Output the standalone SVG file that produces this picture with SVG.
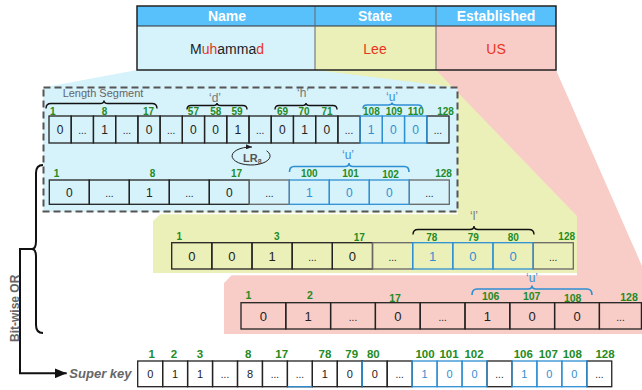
<svg xmlns="http://www.w3.org/2000/svg" width="642" height="390" viewBox="0 0 642 390">
<defs>
<style>
text{font-family:"Liberation Sans",Arial,Helvetica,sans-serif}
.c{fill:none;stroke:#222;stroke-width:1.3}
.cb{fill:none;stroke:#2f8fd3;stroke-width:1.3}
.cg{fill:none;stroke:#666;stroke-width:1.3}
.v{text-anchor:middle;fill:#222;font-size:12px}
.v3{font-size:13px}
.v5{font-size:11px}
.vb{fill:#2f8fd3}
.d{font-size:10px}
.n{font-size:10px;font-weight:bold;fill:#238b23;text-anchor:middle}
.n4{font-size:10.5px}
.n5{font-size:11.5px}
.q{font-size:12px;fill:#777;text-anchor:middle}
.qb{fill:#3a8fd8}
.br{fill:none;stroke:#111;stroke-width:1.4}
.brb{fill:none;stroke:#2f8fd3;stroke-width:1.6}
.hd{font-size:14px;font-weight:bold;fill:#fff;text-anchor:middle}
.tv{font-size:14px;text-anchor:middle;fill:#222}
.red{fill:#e8341c}
</style>
<marker id="ah" viewBox="0 0 12 10" refX="12" refY="5" markerWidth="12" markerHeight="10" markerUnits="userSpaceOnUse" orient="auto"><path d="M0,0 L12,5 L0,10 z" fill="#111"/></marker>
<marker id="ah2" viewBox="0 0 6 5" refX="6" refY="2.5" markerWidth="6" markerHeight="5" markerUnits="userSpaceOnUse" orient="auto"><path d="M0,0 L6,2.5 L0,5 z" fill="#222"/></marker>
</defs>

<g id="regions">
<polygon id="pink-region" points="436,70 556,70 642,266 642,334 224,334 224,283" fill="#f8ccc7"/>
<polygon id="yellow-region" points="315,70 436,70 577,216 577,273 153,273 153,221" fill="#ebf0b9"/>
<rect x="153" y="273" width="424" height="2.3" fill="#fff"/>
<polygon id="blue-region" points="137,70 315,70 457.5,87.5 457.5,211.5 43.5,211.5 43.5,87.5" fill="#d6f2fa"/>
<rect x="43" y="212.5" width="415" height="1.8" fill="#fff"/>
<rect x="43.5" y="87.5" width="414" height="124" fill="#d6f2fa" stroke="#555" stroke-width="2" stroke-dasharray="7 4"/>
</g>

<g id="table">
<rect x="137" y="6" width="419" height="20" fill="#58c0fa"/>
<rect x="137" y="26" width="178" height="44" fill="#d6f2fa"/>
<rect x="315" y="26" width="121" height="44" fill="#ebf0b9"/>
<rect x="436" y="26" width="120" height="44" fill="#f8ccc7"/>
<line x1="137" y1="26" x2="556" y2="26" stroke="#333" stroke-width="1"/>
<line x1="315" y1="6" x2="315" y2="70" stroke="#666" stroke-width="1"/>
<line x1="436" y1="6" x2="436" y2="70" stroke="#666" stroke-width="1"/>
<rect x="137" y="6" width="419" height="64" fill="none" stroke="#222" stroke-width="1.5"/>
<text class="hd" x="227" y="21">Name</text>
<text class="hd" x="375" y="21">State</text>
<text class="hd" x="496" y="21">Established</text>
<text class="tv" x="227" y="54">M<tspan class="red">uh</tspan>amma<tspan class="red">d</tspan></text>
<text class="tv red" x="375" y="54">Lee</text>
<text class="tv red" x="496" y="54">US</text>
</g>

<g id="row-name">
<g>
<rect class="c" x="49" y="116" width="22.22" height="27"/>
<rect class="c" x="71.22" y="116" width="22.22" height="27"/>
<rect class="c" x="93.44" y="116" width="22.22" height="27"/>
<rect class="c" x="115.67" y="116" width="22.22" height="27"/>
<rect class="c" x="137.89" y="116" width="22.22" height="27"/>
<rect class="c" x="160.11" y="116" width="22.22" height="27"/>
<rect class="c" x="182.33" y="116" width="22.22" height="27"/>
<rect class="c" x="204.56" y="116" width="22.22" height="27"/>
<rect class="c" x="226.78" y="116" width="22.22" height="27"/>
<rect class="c" x="249" y="116" width="22.22" height="27"/>
<rect class="c" x="271.22" y="116" width="22.22" height="27"/>
<rect class="c" x="293.44" y="116" width="22.22" height="27"/>
<rect class="c" x="315.67" y="116" width="22.22" height="27"/>
<rect class="c" x="337.89" y="116" width="22.22" height="27"/>
<rect class="c" x="426.78" y="116" width="22.22" height="27"/>
<rect class="cb" x="360.11" y="116" width="22.22" height="27"/>
<rect class="cb" x="382.33" y="116" width="22.22" height="27"/>
<rect class="cb" x="404.56" y="116" width="22.22" height="27"/>
</g>
<text class="v" x="60.1" y="134">0</text>
<text class="v d" x="82.3" y="134">...</text>
<text class="v" x="104.6" y="134">1</text>
<text class="v d" x="126.8" y="134">...</text>
<text class="v" x="149" y="134">0</text>
<text class="v d" x="171.2" y="134">...</text>
<text class="v" x="193.4" y="134">0</text>
<text class="v" x="215.7" y="134">0</text>
<text class="v" x="237.9" y="134">1</text>
<text class="v d" x="260.1" y="134">...</text>
<text class="v" x="282.3" y="134">0</text>
<text class="v" x="304.6" y="134">1</text>
<text class="v" x="326.8" y="134">0</text>
<text class="v d" x="349" y="134">...</text>
<text class="v vb" x="371.2" y="134">1</text>
<text class="v vb" x="393.4" y="134">0</text>
<text class="v vb" x="415.7" y="134">0</text>
<text class="v d" x="437.9" y="134">...</text>
<text class="n" x="52.7" y="115">1</text>
<text class="n" x="104.5" y="115">8</text>
<text class="n" x="148.5" y="115">17</text>
<text class="n" x="193.4" y="115">57</text>
<text class="n" x="215.7" y="115">58</text>
<text class="n" x="237" y="115">59</text>
<text class="n" x="282.5" y="115">69</text>
<text class="n" x="304" y="115">70</text>
<text class="n" x="327" y="115">71</text>
<text class="n" x="371.4" y="115">108</text>
<text class="n" x="394" y="115">109</text>
<text class="n" x="415.7" y="115">110</text>
<text class="n" x="445.5" y="115">128</text>
<path class="br" d="M46,108.5 Q46,103.5 51,103.5 L100,103.5 Q104,103.5 104,100.5 Q104,103.5 108,103.5 L152,103.5 Q157,103.5 157,108.5"/>
<text x="103" y="97" font-size="11" fill="#666" text-anchor="middle">Length Segment</text>
<path class="br" d="M187,109.5 Q187,105.5 191,105.5 L213,105.5 Q217,105.5 217,103 Q217,105.5 221,105.5 L243,105.5 Q247,105.5 247,109.5"/>
<text class="q" x="215" y="101.5">‘d’</text>
<path class="br" d="M275,109.5 Q275,105.5 279,105.5 L302,105.5 Q306,105.5 306,103 Q306,105.5 310,105.5 L333,105.5 Q337,105.5 337,109.5"/>
<text class="q" x="303" y="97">‘h’</text>
<path class="brb" d="M363,108.5 Q363,105 367,105 L388,105 Q392,105 392,102.5 Q392,105 396,105 L418,105 Q422,105 422,108.5"/>
<text class="q qb" x="392" y="101">‘u’</text>
</g>

<g id="row-name-lr8">
<rect class="c" x="49.3" y="180" width="40" height="24.3"/>
<rect class="c" x="89.3" y="180" width="40" height="24.3"/>
<rect class="c" x="129.3" y="180" width="40" height="24.3"/>
<rect class="c" x="169.3" y="180" width="40" height="24.3"/>
<rect class="c" x="209.3" y="180" width="40" height="24.3"/>
<rect class="cg" x="249.3" y="180" width="40" height="24.3"/>
<rect class="cg" x="409.3" y="180" width="40" height="24.3"/>
<rect class="cb" x="289.3" y="180" width="40" height="24.3"/>
<rect class="cb" x="329.3" y="180" width="40" height="24.3"/>
<rect class="cb" x="369.3" y="180" width="40" height="24.3"/>
<text class="v" x="69.3" y="196.5">0</text>
<text class="v d" x="109.3" y="196.5">...</text>
<text class="v" x="149.3" y="196.5">1</text>
<text class="v d" x="189.3" y="196.5">...</text>
<text class="v" x="229.3" y="196.5">0</text>
<text class="v d" x="269.3" y="196.5">...</text>
<text class="v vb" x="309.3" y="196.5">1</text>
<text class="v vb" x="349.3" y="196.5">0</text>
<text class="v vb" x="389.3" y="196.5">0</text>
<text class="v d" x="429.3" y="196.5">...</text>
<text class="n" x="56.5" y="177">1</text>
<text class="n" x="152.5" y="177">8</text>
<text class="n" x="236.5" y="177">17</text>
<text class="n" x="309.3" y="177">100</text>
<text class="n" x="350.5" y="177">101</text>
<text class="n" x="390.5" y="178">102</text>
<text class="n" x="443.5" y="177">128</text>
<path class="brb" d="M289.5,172 Q289.5,166.5 294,166.5 L345,166.5 Q349,166.5 349,163 Q349,166.5 353,166.5 L404.5,166.5 Q409,166.5 409,172"/>
<text class="q qb" x="348" y="158.5">‘u’</text>
</g>

<g id="row-state">
<rect class="c" x="171.7" y="242.7" width="40.16" height="26.3"/>
<rect class="c" x="211.86" y="242.7" width="40.16" height="26.3"/>
<rect class="c" x="252.02" y="242.7" width="40.16" height="26.3"/>
<rect class="c" x="292.18" y="242.7" width="40.16" height="26.3"/>
<rect class="c" x="332.34" y="242.7" width="40.16" height="26.3"/>
<rect class="cg" x="372.5" y="242.7" width="40.16" height="26.3"/>
<rect class="cg" x="533.14" y="242.7" width="40.16" height="26.3"/>
<rect class="cb" x="412.66" y="242.7" width="40.16" height="26.3"/>
<rect class="cb" x="452.82" y="242.7" width="40.16" height="26.3"/>
<rect class="cb" x="492.98" y="242.7" width="40.16" height="26.3"/>
<text class="v v3" x="191.8" y="260.5">0</text>
<text class="v v3" x="231.9" y="260.5">0</text>
<text class="v v3" x="272.1" y="260.5">1</text>
<text class="v d" x="312.3" y="260.5">...</text>
<text class="v v3" x="352.4" y="260.5">0</text>
<text class="v d" x="392.6" y="260.5">...</text>
<text class="v v3 vb" x="432.7" y="260.5">1</text>
<text class="v v3 vb" x="472.9" y="260.5">0</text>
<text class="v v3 vb" x="513.1" y="260.5">0</text>
<text class="v d" x="553.2" y="260.5">...</text>
<text class="n" x="179.3" y="239.5">1</text>
<text class="n" x="276.7" y="239.5">3</text>
<text class="n" x="359.3" y="240.5">17</text>
<text class="n" x="431.7" y="241">78</text>
<text class="n" x="473.3" y="241">79</text>
<text class="n" x="513.3" y="241">80</text>
<text class="n" x="566.7" y="240">128</text>
<path class="br" d="M413,234.5 Q413,229.5 418,229.5 L470,229.5 Q474,229.5 474,226 Q474,229.5 478,229.5 L529,229.5 Q534,229.5 534,234.5"/>
<text class="q" x="474" y="220">‘l’</text>
</g>

<g id="row-established">
<rect class="c" x="241" y="302.7" width="44.8" height="26.3"/>
<rect class="c" x="285.8" y="302.7" width="44.8" height="26.3"/>
<rect class="c" x="330.6" y="302.7" width="44.8" height="26.3"/>
<rect class="c" x="375.4" y="302.7" width="44.8" height="26.3"/>
<rect class="c" x="420.2" y="302.7" width="44.8" height="26.3"/>
<rect class="c" x="465" y="302.7" width="44.8" height="26.3"/>
<rect class="c" x="509.8" y="302.7" width="44.8" height="26.3"/>
<rect class="c" x="554.6" y="302.7" width="44.8" height="26.3"/>
<rect class="c" x="599.4" y="302.7" width="42" height="26.3"/>
<text class="v v3" x="263.4" y="320.5">0</text>
<text class="v v3" x="308.2" y="320.5">1</text>
<text class="v d" x="353" y="320.5">...</text>
<text class="v v3" x="397.8" y="320.5">0</text>
<text class="v d" x="442.6" y="320.5">...</text>
<text class="v v3" x="487.4" y="320.5">1</text>
<text class="v v3" x="532.2" y="320.5">0</text>
<text class="v v3" x="577" y="320.5">0</text>
<text class="v d" x="620.5" y="320.5">...</text>
<text class="n n4" x="248.3" y="299">1</text>
<text class="n n4" x="310" y="299">2</text>
<text class="n n4" x="395" y="302">17</text>
<text class="n n4" x="490.7" y="300">106</text>
<text class="n n4" x="531.7" y="300">107</text>
<text class="n n4" x="572.7" y="302">108</text>
<text class="n n4" x="629" y="301">128</text>
<path class="brb" d="M472,295 Q472,289 477,289 L528,289 Q532,289 532,285.5 Q532,289 536,289 L587,289 Q592,289 592,295"/>
<text class="q qb" x="532" y="281.5">‘u’</text>
</g>

<g id="super-key">
<rect class="c" x="137.7" y="361" width="24.95" height="25.7"/>
<rect class="c" x="162.65" y="361" width="24.95" height="25.7"/>
<rect class="c" x="187.6" y="361" width="24.95" height="25.7"/>
<rect class="c" x="212.55" y="361" width="24.95" height="25.7"/>
<rect class="c" x="237.5" y="361" width="24.95" height="25.7"/>
<rect class="c" x="262.45" y="361" width="24.95" height="25.7"/>
<rect class="c" x="287.4" y="361" width="24.95" height="25.7"/>
<rect class="c" x="312.35" y="361" width="24.95" height="25.7"/>
<rect class="c" x="337.3" y="361" width="24.95" height="25.7"/>
<rect class="c" x="362.25" y="361" width="24.95" height="25.7"/>
<rect class="c" x="387.2" y="361" width="24.95" height="25.7"/>
<rect class="c" x="487" y="361" width="24.95" height="25.7"/>
<rect class="c" x="586.8" y="361" width="24.95" height="25.7"/>
<line x1="287.4" y1="386.7" x2="312.35" y2="386.7" stroke="#2f8fd3" stroke-width="1.3"/>
<line x1="362.25" y1="361" x2="362.25" y2="386.7" stroke="#2f8fd3" stroke-width="1.3"/>
<rect class="cb" x="412.15" y="361" width="24.95" height="25.7"/>
<rect class="cb" x="437.1" y="361" width="24.95" height="25.7"/>
<rect class="cb" x="462.05" y="361" width="24.95" height="25.7"/>
<rect class="cb" x="511.95" y="361" width="24.95" height="25.7"/>
<rect class="cb" x="536.9" y="361" width="24.95" height="25.7"/>
<rect class="cb" x="561.85" y="361" width="24.95" height="25.7"/>
<text class="v v5" x="150.2" y="377.8">0</text>
<text class="v v5" x="175.1" y="377.8">1</text>
<text class="v v5" x="200.1" y="377.8">1</text>
<text class="v d" x="225" y="377.8">...</text>
<text class="v v5" x="250" y="377.8">8</text>
<text class="v d" x="274.9" y="377.8">...</text>
<text class="v d" x="299.9" y="377.8">...</text>
<text class="v v5" x="324.8" y="377.8">1</text>
<text class="v v5" x="349.8" y="377.8">0</text>
<text class="v v5" x="374.7" y="377.8">0</text>
<text class="v d" x="399.7" y="377.8">...</text>
<text class="v v5 vb" x="424.6" y="377.8">1</text>
<text class="v v5 vb" x="449.6" y="377.8">0</text>
<text class="v v5 vb" x="474.5" y="377.8">0</text>
<text class="v d" x="499.5" y="377.8">...</text>
<text class="v v5 vb" x="524.4" y="377.8">1</text>
<text class="v v5 vb" x="549.4" y="377.8">0</text>
<text class="v v5 vb" x="574.3" y="377.8">0</text>
<text class="v d" x="599.3" y="377.8">...</text>
<text class="n n5" x="151.7" y="358">1</text>
<text class="n n5" x="174" y="358">2</text>
<text class="n n5" x="200" y="358">3</text>
<text class="n n5" x="248.3" y="358">8</text>
<text class="n n5" x="281.7" y="358">17</text>
<text class="n n5" x="325" y="358">78</text>
<text class="n n5" x="351.7" y="358">79</text>
<text class="n n5" x="373.3" y="358">80</text>
<text class="n n5" x="425" y="358">100</text>
<text class="n n5" x="449" y="358">101</text>
<text class="n n5" x="474" y="358">102</text>
<text class="n n5" x="523.3" y="358">106</text>
<text class="n n5" x="548.3" y="358">107</text>
<text class="n n5" x="572.3" y="358">108</text>
<text class="n n5" x="605" y="358">128</text>
<text x="131.5" y="378" font-size="13" font-weight="bold" font-style="italic" fill="#666" text-anchor="end">Super key</text>
</g>

<g id="connectors">
<path d="M266.6,150.8 A19,9 0 1,1 252,147" fill="none" stroke="#222" stroke-width="1" marker-end="url(#ah2)"/>
<text x="243" y="162" font-size="11" font-weight="bold" fill="#555">LR<tspan font-size="7" dy="2">8</tspan></text>
<path d="M43,165 C37.5,165 36,168 36,173 L36,241 C36,246 35,249 32,249 C35,249 36,252 36,257 L36,325 C36,330 37.5,333 43,333" fill="none" stroke="#111" stroke-width="2"/>
<path d="M32,249 L20,249 L20,373.3 L66.7,373.3" fill="none" stroke="#111" stroke-width="2" marker-end="url(#ah)"/>
<text transform="translate(18.5,308.3) rotate(-90)" font-size="12" font-weight="bold" fill="#666" text-anchor="middle">Bit-wise OR</text>
</g>
</svg>
